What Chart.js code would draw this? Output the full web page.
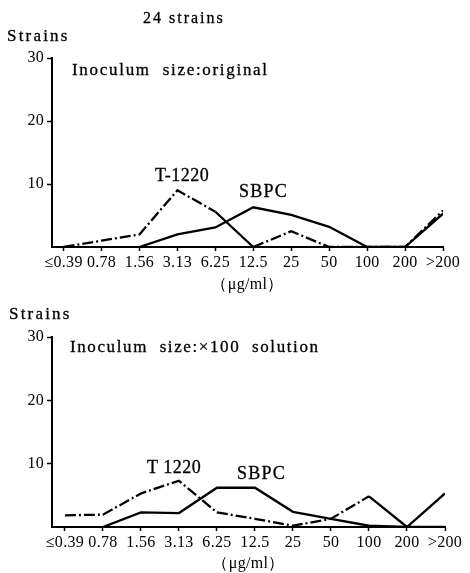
<!DOCTYPE html>
<html>
<head>
<meta charset="utf-8">
<script src="https://cdn.jsdelivr.net/npm/chart.js@4/dist/chart.umd.min.js"></script>
<style>
  html, body { margin: 0; padding: 0; background: #fff; }
  #page { position: relative; width: 470px; height: 573px; overflow: hidden; font-family: "Liberation Serif", "DejaVu Serif", serif; color: #000; }
  .cv { position: absolute; left: 0; }
  .txt { position: absolute; white-space: pre; line-height: 1; -webkit-text-stroke: 0.3px #000; }
</style>
</head>
<body>
<div id="page">
  <div class="cv" style="top:0;width:470px;height:294px"><canvas id="chartOrig"></canvas></div>
  <div class="cv" style="top:290px;width:470px;height:283px"><canvas id="chartHundred"></canvas></div>

  <div class="txt" style="left:143px;top:10px;font-size:16px;letter-spacing:2px">24 strains</div>
  <div class="txt" style="left:7px;top:27px;font-size:17px;letter-spacing:2.2px">Strains</div>
  <div class="txt" style="left:72px;top:61px;font-size:17px;letter-spacing:1.7px">Inoculum  size:original</div>
  <div class="txt" style="left:155px;top:166px;font-size:18px;letter-spacing:0.5px">T-1220</div>
  <div class="txt" style="left:239px;top:182px;font-size:18px;letter-spacing:1.2px">SBPC</div>

  <div class="txt" style="left:9px;top:305px;font-size:17px;letter-spacing:2.2px">Strains</div>
  <div class="txt" style="left:70px;top:338px;font-size:17px;letter-spacing:1.6px">Inoculum  size:×100  solution</div>
  <div class="txt" style="left:147px;top:458px;font-size:18px;letter-spacing:0.5px">T 1220</div>
  <div class="txt" style="left:237px;top:464px;font-size:18px;letter-spacing:1.2px">SBPC</div>
</div>
<script>
const conc = ["≤0.39", "0.78", "1.56", "3.13", "6.25", "12.5", "25", "50", "100", "200", ">200"];
const yTicks = [10, 20, 30];

// inoculum size: original
const origT1220 = [0, 1, 2, 9, 5.6, 0, 2.5, 0, 0, 0, 5.8];
const origSBPC = [null, null, 0, 2, 3.1, 6.3, 5.1, 3.2, 0, 0, 5.3];
const origSolidSegs = [4];

// inoculum size: x100 solution
const hundredT1220 = [1.85, 1.95, 5.3, 7.3, 2.3, 1.3, 0.2, 1.3, 4.85, 0, 5.3];
const hundredSBPC = [null, 0, 2.3, 2.2, 6.2, 6.2, 2.4, 1.3, 0.2, 0, 0];
const hundredSolidSegs = [8, 9];

const dashDot = [11, 3, 2, 3];
const serif = "'Liberation Serif', 'DejaVu Serif', serif";

const spacing = {
  id: "spacing",
  beforeDraw(chart) { chart.ctx.letterSpacing = "0.3px"; }
};

function pts(values) {
  return values.map((v, i) => ({ x: i, y: v }));
}

function makeChart(id, t1220, sbpc, solidSegs, xMin, areaTop, areaRight, xAxisHeight) {
  return new Chart(document.getElementById(id), {
    type: "line",
    data: {
      datasets: [
        {
          label: "T-1220",
          data: pts(t1220),
          borderColor: "#000",
          borderWidth: 2.3,
          borderDash: dashDot,
          segment: { borderDash: (c) => (solidSegs.includes(c.p0DataIndex) ? [] : dashDot) },
          pointRadius: 0,
          tension: 0
        },
        {
          label: "SBPC",
          data: pts(sbpc),
          borderColor: "#000",
          borderWidth: 2.3,
          pointRadius: 0,
          tension: 0
        }
      ]
    },
    options: {
      responsive: true,
      maintainAspectRatio: false,
      animation: false,
      layout: { padding: { top: areaTop, right: areaRight, left: 0, bottom: 0 } },
      plugins: { legend: { display: false }, tooltip: { enabled: false } },
      scales: {
        x: {
          type: "linear",
          min: xMin,
          max: conc.length - 1,
          afterBuildTicks: (s) => { s.ticks = conc.map((_, i) => ({ value: i })); },
          afterFit: (s) => { s.height = xAxisHeight; },
          ticks: {
            color: "#000",
            font: { family: serif, size: 16 },
            padding: 2.5,
            maxRotation: 0,
            autoSkip: false,
            callback: (v) => conc[v]
          },
          grid: { drawOnChartArea: false, drawTicks: true, tickLength: 4, tickWidth: 1.5, tickColor: "#000" },
          border: { display: true, color: "#000", width: 2 },
          title: {
            display: true,
            text: "（μg/ml）",
            color: "#000",
            font: { family: serif, size: 16 },
            padding: { top: 0, bottom: 0 }
          }
        },
        y: {
          min: 0,
          max: 30,
          afterBuildTicks: (s) => { s.ticks = yTicks.map((v) => ({ value: v })); },
          afterFit: (s) => { s.width = 52; },
          ticks: { color: "#000", font: { family: serif, size: 16 }, padding: 3 },
          grid: { drawOnChartArea: false, drawTicks: true, tickLength: 5, tickWidth: 1.5, tickColor: "#000" },
          border: { display: true, color: "#000", width: 2 }
        }
      }
    },
    plugins: [spacing]
  });
}

makeChart("chartOrig", origT1220, origSBPC, origSolidSegs, -0.305, 58, 27, 47);
makeChart("chartHundred", hundredT1220, hundredSBPC, hundredSolidSegs, -0.34, 47, 25, 46);
</script>
</body>
</html>
